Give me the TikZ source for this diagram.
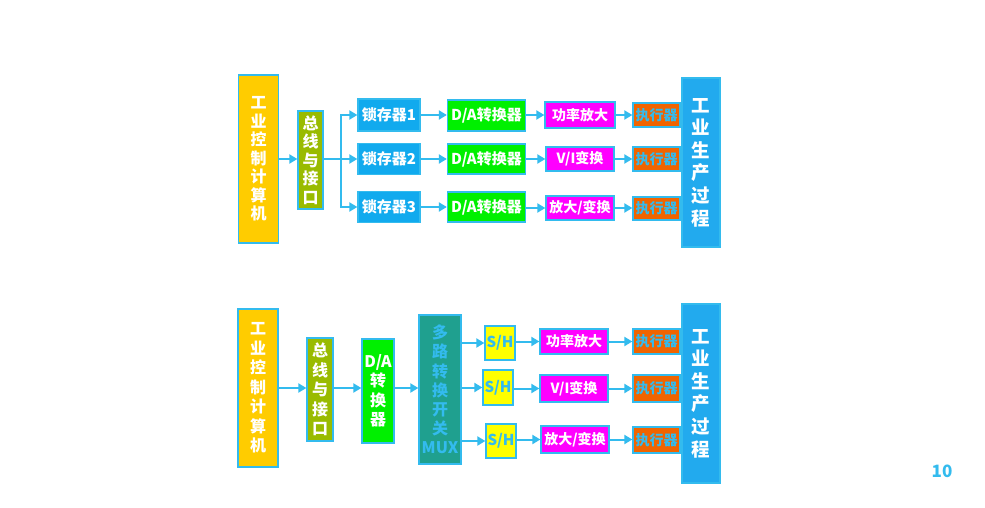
\documentclass[tikz,border=0pt]{standalone}
\usepackage{fontspec}
\setmainfont{Noto Sans CJK SC}
\usetikzlibrary{arrows.meta}
\definecolor{edgec}{RGB}{51,187,238}
\definecolor{arrc}{RGB}{51,187,238}
\definecolor{compc}{RGB}{255,204,0}
\definecolor{busc}{RGB}{153,187,0}
\definecolor{latchc}{RGB}{17,170,238}
\definecolor{dac}{RGB}{0,240,0}
\definecolor{magc}{RGB}{255,0,255}
\definecolor{exc}{RGB}{240,100,0}
\definecolor{procc}{RGB}{34,170,238}
\definecolor{muxc}{RGB}{31,160,143}
\definecolor{shc}{RGB}{255,255,0}
\definecolor{ltxt}{RGB}{51,187,238}
\tikzset{
  blk/.style={draw=edgec, line width=1.3pt, inner sep=0pt, align=center, text=white},
  vtext/.style={font=\fontsize{16}{18.5}\selectfont\bfseries},
  htext/.style={font=\fontsize{15}{17}\selectfont\bfseries},
  stext/.style={font=\fontsize{14}{16}\selectfont\bfseries},
  arr/.style={draw=arrc, line width=2pt, -{Triangle[length=8pt,width=9pt]}},
  ln/.style={draw=arrc, line width=2pt},
}
\begin{document}
\begin{tikzpicture}[x=1pt,y=-1pt]
\useasboundingbox[fill=white] (0,0) rectangle (985,508);
% ---------- top diagram ----------
\node[blk, vtext, fill=compc, minimum width=40, minimum height=168] (comp1) at (258.5,159) {工\\业\\控\\制\\计\\算\\机};
\node[blk, vtext, fill=busc, minimum width=25, minimum height=98] (bus1) at (310.5,160) {总\\线\\与\\接\\口};
\node[blk, htext, fill=latchc, minimum width=62, minimum height=32] (L1) at (389,115) {锁存器1};
\node[blk, htext, fill=latchc, minimum width=62, minimum height=31] (L2) at (389,159) {锁存器2};
\node[blk, htext, fill=latchc, minimum width=62, minimum height=31] (L3) at (389,207) {锁存器3};
\node[blk, htext, fill=dac, minimum width=78, minimum height=31] (DA1) at (486.5,115.5) {D/A转换器};
\node[blk, htext, fill=dac, minimum width=78, minimum height=30] (DA2) at (486.5,159) {D/A转换器};
\node[blk, htext, fill=dac, minimum width=78, minimum height=30] (DA3) at (486.5,207) {D/A转换器};
\node[blk, stext, fill=magc, minimum width=70, minimum height=26] (P1) at (580,115) {功率放大};
\node[blk, stext, fill=magc, minimum width=68, minimum height=24] (P2) at (580,159) {V/I变换};
\node[blk, stext, fill=magc, minimum width=68, minimum height=24] (P3) at (580,208) {放大/变换};
\node[blk, stext, fill=exc, text=ltxt, minimum width=47, minimum height=24] (E1) at (656.5,115) {执行器};
\node[blk, stext, fill=exc, text=ltxt, minimum width=47, minimum height=24] (E2) at (656.5,159) {执行器};
\node[blk, stext, fill=exc, text=ltxt, minimum width=47, minimum height=23] (E3) at (656.5,208.5) {执行器};
\node[blk, font=\fontsize{18.5}{22.6}\selectfont\bfseries, fill=procc, minimum width=38, minimum height=169] (proc1) at (701,162.5) {工\\业\\生\\产\\过\\程};
\coordinate (f1) at (341,159);
\draw[arr] (comp1.east) -- (comp1.east -| bus1.west);
\draw[ln] (bus1.east |- f1) -- (f1);
\draw[arr] (f1) |- (L1.west);
\draw[arr] (f1) -- (L2.west);
\draw[arr] (f1) |- (L3.west);
\foreach \i in {1,2,3}{
  \draw[arr] (L\i.east) -- (L\i.east -| DA\i.west);
  \draw[arr] (DA\i.east |- P\i) -- (P\i.west);
  \draw[arr] (P\i.east) -- (P\i.east -| E\i.west);
}
% ---------- bottom diagram ----------
\node[blk, font=\fontsize{16}{19.5}\selectfont\bfseries, fill=compc, minimum width=40, minimum height=158] (comp2) at (258,388) {工\\业\\控\\制\\计\\算\\机};
\node[blk, font=\fontsize{16}{19.5}\selectfont\bfseries, fill=busc, minimum width=26, minimum height=103] (bus2) at (320,389.5) {总\\线\\与\\接\\口};
\node[blk, font=\fontsize{16}{19.5}\selectfont\bfseries, fill=dac, minimum width=32, minimum height=104] (da) at (378,391) {D/A\\转\\换\\器};
\node[blk, font=\fontsize{16}{19.2}\selectfont\bfseries, fill=muxc, text=ltxt, minimum width=42, minimum height=149] (mux) at (440,389.5) {多\\路\\转\\换\\开\\关\\MUX};
\node[blk, htext, fill=shc, text=ltxt, minimum width=30, minimum height=34] (S1) at (500,343) {S/H};
\node[blk, htext, fill=shc, text=ltxt, minimum width=30, minimum height=35] (S2) at (498,387.5) {S/H};
\node[blk, htext, fill=shc, text=ltxt, minimum width=30, minimum height=34] (S3) at (501,441) {S/H};
\node[blk, stext, fill=magc, minimum width=68, minimum height=25] (Q1) at (574,341.5) {功率放大};
\node[blk, stext, fill=magc, minimum width=68, minimum height=27] (Q2) at (574,388.5) {V/I变换};
\node[blk, stext, fill=magc, minimum width=68, minimum height=27] (Q3) at (575,439.5) {放大/变换};
\node[blk, stext, fill=exc, text=ltxt, minimum width=47, minimum height=25] (X1) at (656.5,341.5) {执行器};
\node[blk, stext, fill=exc, text=ltxt, minimum width=47, minimum height=27] (X2) at (656.5,388.5) {执行器};
\node[blk, stext, fill=exc, text=ltxt, minimum width=47, minimum height=26] (X3) at (656.5,440) {执行器};
\node[blk, font=\fontsize{18.5}{22.6}\selectfont\bfseries, fill=procc, minimum width=38, minimum height=179] (proc2) at (701,393.5) {工\\业\\生\\产\\过\\程};
\draw[arr] (comp2.east) -- (comp2.east -| bus2.west);
\draw[arr] (bus2.east |- comp2) -- (comp2 -| da.west);
\draw[arr] (da.east |- comp2) -- (comp2 -| mux.west);
\foreach \i in {1,2,3}{
  \draw[arr] (mux.east |- S\i) -- (S\i.west);
  \draw[arr] (S\i.east |- Q\i) -- (Q\i.west);
  \draw[arr] (Q\i.east) -- (Q\i.east -| X\i.west);
}
\node[font=\fontsize{17}{20}\selectfont\bfseries, text=ltxt] (pg) at (942,471) {10};
\end{tikzpicture}
\end{document}
